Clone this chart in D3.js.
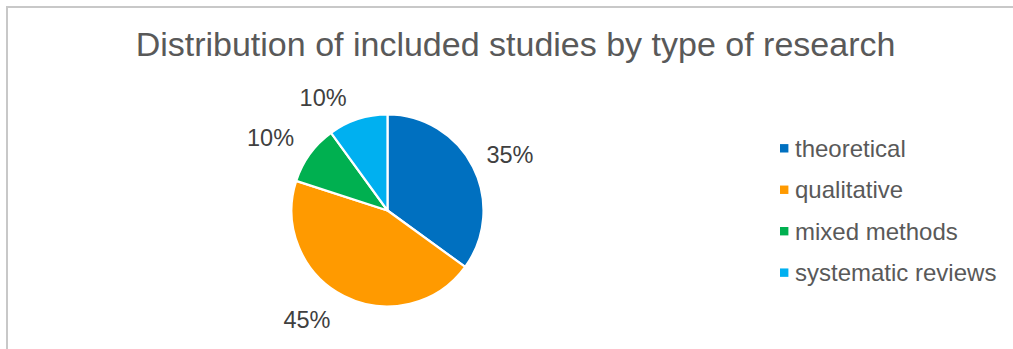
<!DOCTYPE html>
<html>
<head>
<meta charset="utf-8">
<script src="https://cdn.jsdelivr.net/npm/d3@7"></script>
<style>
  html, body { margin: 0; padding: 0; background: #fff; }
  svg { display: block; }
  text { font-family: "Liberation Sans", Arial, sans-serif; }
</style>
</head>
<body>
<script>
// Study types and their share of the included studies (percent)
const categories = ["theoretical", "qualitative", "mixed methods", "systematic reviews"];
const shares = [35, 45, 10, 10];
const colors = ["#0070C0", "#FF9A00", "#00B050", "#00B0F0"];
const title = "Distribution of included studies by type of research";

// Label placement: angular nudge (degrees) from each slice's mid-angle and distance from centre
const labelNudgeDeg = [2.6, 9.3, -4.2, -11.7];
const labelDist = [134.5, 136, 137.6, 130];

const W = 1013, H = 349;
const cx = 387.5, cy = 210.5, R = 96;

const svg = d3.select("body").append("svg")
  .attr("width", W).attr("height", H);

// chart frame (only the top and left edges fall inside the view)
svg.append("rect")
  .attr("x", 7).attr("y", 7)
  .attr("width", W + 20).attr("height", H + 20)
  .attr("fill", "#fff")
  .attr("stroke", "#c8c8c8")
  .attr("stroke-width", 2);

svg.append("text")
  .attr("x", 515.5).attr("y", 56)
  .attr("text-anchor", "middle")
  .attr("font-size", 34)
  .attr("fill", "#595959")
  .text(title);

const data = categories.map((c, i) => ({ name: c, value: shares[i], color: colors[i], idx: i }));

const pie = d3.pie().value(d => d.value).sort(null);
const arcs = pie(data);
const arc = d3.arc().innerRadius(0).outerRadius(R);

const g = svg.append("g").attr("transform", `translate(${cx},${cy})`);

g.selectAll("path.slice")
  .data(arcs)
  .join("path")
  .attr("class", "slice")
  .attr("d", arc)
  .attr("fill", d => d.data.color)
  .attr("stroke", "#fff")
  .attr("stroke-width", 2.2)
  .attr("stroke-linejoin", "round");

g.selectAll("text.lbl")
  .data(arcs)
  .join("text")
  .attr("class", "lbl")
  .attr("transform", d => {
    const a = (d.startAngle + d.endAngle) / 2 + labelNudgeDeg[d.data.idx] * Math.PI / 180;
    const r = labelDist[d.data.idx];
    return `translate(${r * Math.sin(a)},${-r * Math.cos(a)})`;
  })
  .attr("text-anchor", "middle")
  .attr("dominant-baseline", "central")
  .attr("font-size", 23.5)
  .attr("fill", "#404040")
  .text(d => d.data.value + "%");

// legend
const legY0 = 148.3, legStep = 41.45;
const leg = svg.append("g");
const items = leg.selectAll("g")
  .data(data)
  .join("g")
  .attr("transform", (d, i) => `translate(780,${legY0 + i * legStep})`);

items.append("rect")
  .attr("x", 0).attr("y", -4.2)
  .attr("width", 8.4).attr("height", 8.4)
  .attr("fill", d => d.color);

items.append("text")
  .attr("x", 15).attr("y", 0)
  .attr("dominant-baseline", "central")
  .attr("font-size", 24)
  .attr("fill", "#595959")
  .text(d => d.name);
</script>
</body>
</html>
